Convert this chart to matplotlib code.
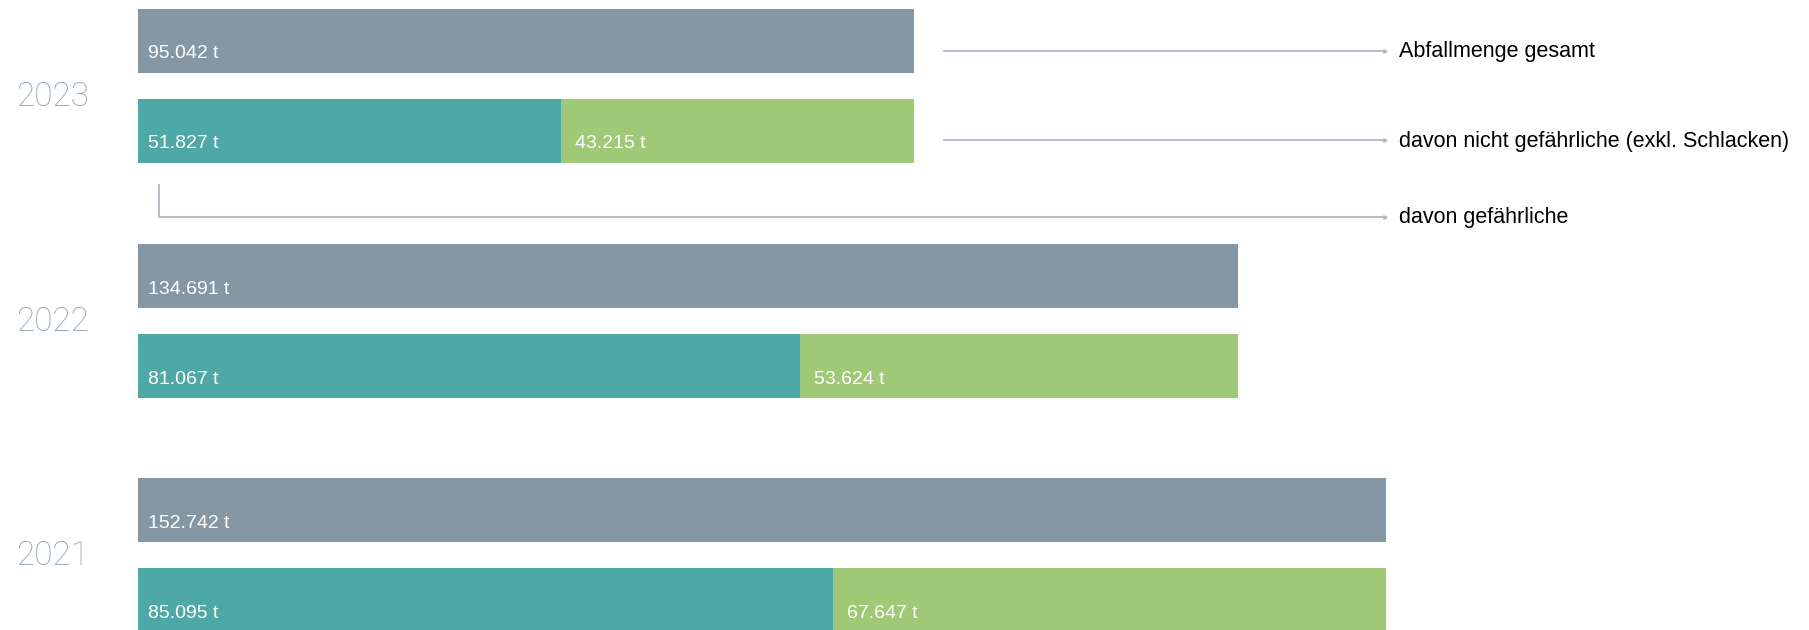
import numpy as np
import matplotlib.pyplot as plt

# data (tonnes, in thousands)
years = ["2023", "2022", "2021"]
total = [95.042, 134.691, 152.742]
teal_part = [51.827, 81.067, 85.095]
green_part = [43.215, 53.624, 67.647]
total_lbl = ["95.042 t", "134.691 t", "152.742 t"]
teal_lbl = ["51.827 t", "81.067 t", "85.095 t"]
green_lbl = ["43.215 t", "53.624 t", "67.647 t"]
legend_txt = ["Abfallmenge gesamt",
              "davon nicht gefährliche (exkl. Schlacken)",
              "davon gefährliche"]

c_gray = "#8597a5"
c_teal = "#4ea8a5"
c_green = "#a0c977"
c_line = "#aebac5"
c_year = "#8fa2b1"

W, H = 1809, 630
x0 = 138          # pixel where value 0 sits
kpx = 8.17        # pixels per 1000 t

fig = plt.figure(figsize=(W / 100, H / 100), dpi=100)
ax = fig.add_axes([0, 0, 1, 1])
ax.set_xlim(-x0 / kpx, (W - x0) / kpx)
ax.set_ylim(H, 0)
ax.axis("off")

bh = 64
g_top = np.array([41, 276, 510])
g_bot = g_top + 90

ax.barh(g_top, total, height=bh, color=c_gray)
ax.barh(g_bot, teal_part, height=bh, color=c_teal)
ax.barh(g_bot, green_part, left=teal_part, height=bh, color=c_green)

lab_font = dict(family=["Liberation Sans", "DejaVu Sans"], size=14, color="white", va="center")
dx = 10 / kpx
for i in range(3):
    ax.text(dx, g_top[i] + 13, total_lbl[i], **lab_font)
    ax.text(dx, g_bot[i] + 13, teal_lbl[i], **lab_font)
    ax.text(teal_part[i] + 14 / kpx, g_bot[i] + 13, green_lbl[i], **lab_font)

# overlay in pixel coordinates for year labels and legend lines
ov = fig.add_axes([0, 0, 1, 1])
ov.set_xlim(0, W)
ov.set_ylim(H, 0)
ov.axis("off")
ov.patch.set_alpha(0)

year_y = [97, 322, 556]
for y, t in zip(year_y, years):
    ov.text(53, y, t, ha="center", va="center", fontsize=24, color=c_year,
            family=["Roboto", "DejaVu Sans"], fontweight="light")

line_y = [51, 140]
for y in line_y:
    ov.plot([944, 1385], [y, y], color=c_line, lw=1.3)
ov.plot([158.7, 158.7, 1385], [185, 217, 217], color=c_line, lw=1.3)
ov.plot([1385] * 3, line_y + [217], ls="none", marker=">", ms=2.5, color=c_line)

for y, t in zip([51, 141, 217], legend_txt):
    ov.text(1399, y, t, ha="left", va="center", fontsize=15.5, color="black",
            family=["Liberation Sans", "DejaVu Sans"])

fig.savefig("out.png", dpi=100)
